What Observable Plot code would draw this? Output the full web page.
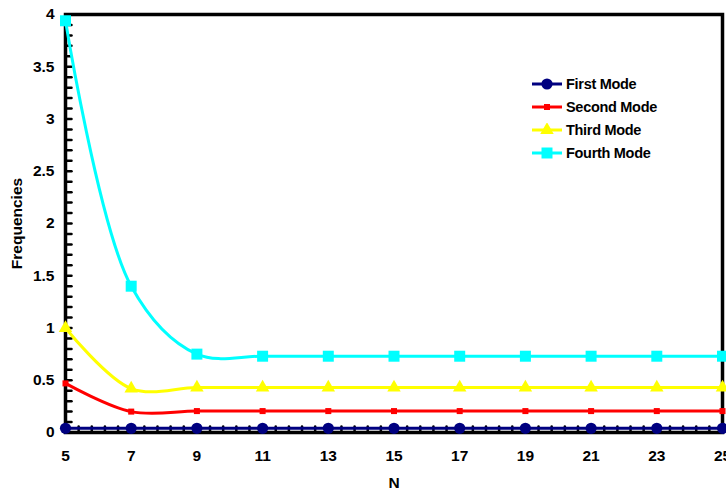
<!DOCTYPE html>
<html>
<head>
<meta charset="utf-8">
<script src="https://cdn.jsdelivr.net/npm/d3@7"></script>
<script src="https://cdn.jsdelivr.net/npm/@observablehq/plot@0.6"></script>
<style>
  html, body { margin: 0; padding: 0; background: #fff; }
  #wrap { position: relative; width: 726px; height: 495px; font-family: "Liberation Sans", Arial, sans-serif; }
  #legend { position: absolute; left: 531px; top: 72px; font-weight: bold; font-size: 14.5px; letter-spacing: -0.3px; }
  .row { display: flex; align-items: center; height: 23px; }
  .row svg { margin-right: 3px; }
</style>
</head>
<body>
<div id="wrap"><div id="legend"></div></div>
<script>
const N = [5, 7, 9, 11, 13, 15, 17, 19, 21, 23, 25];
const firstMode  = [0.04, 0.04, 0.04, 0.04, 0.04, 0.04, 0.04, 0.04, 0.04, 0.04, 0.04];
const secondMode = [0.47, 0.20, 0.205, 0.205, 0.205, 0.205, 0.205, 0.205, 0.205, 0.205, 0.205];
const thirdMode  = [1.00, 0.42, 0.43, 0.43, 0.43, 0.43, 0.43, 0.43, 0.43, 0.43, 0.43];
const fourthMode = [3.94, 1.40, 0.75, 0.73, 0.73, 0.73, 0.73, 0.73, 0.73, 0.73, 0.73];
const seriesNames = ["First Mode", "Second Mode", "Third Mode", "Fourth Mode"];
const seriesColors = ["#000080", "#ff0000", "#ffff00", "#00ffff"];
const seriesSymbols = ["circle", "square", "triangle", "square"];
const seriesSizes = [5.6, 3.4, 5.0, 6.2];
const yTicks = [0, 0.5, 1, 1.5, 2, 2.5, 3, 3.5, 4];
const xTicks = [5, 7, 9, 11, 13, 15, 17, 19, 21, 23, 25];

const seriesValues = [firstMode, secondMode, thirdMode, fourthMode];
const rows = seriesNames.flatMap((name, s) => N.map((n, i) => ({series: name, s, N: n, f: seriesValues[s][i]})));

const yMinor = d3.range(0, 4.0001, 0.1);
const xMinor = d3.range(5, 25.0001, 0.4);

const tickShape = {draw(context, l) { context.moveTo(0, 0); context.lineTo(0, -l); }};

const marks = [
  Plot.frame({stroke: "black", strokeWidth: 3.5}),
  // inward minor ticks on the left axis
  Plot.vector(yMinor, {y: d => d, frameAnchor: "left", rotate: 90, length: 6, shape: tickShape, anchor: "start", stroke: "black", strokeWidth: 2.5}),
  // inward minor ticks on the bottom axis
  Plot.vector(xMinor, {x: d => d, frameAnchor: "bottom", rotate: 0, length: 6, shape: tickShape, anchor: "start", stroke: "black", strokeWidth: 2.5}),
  Plot.axisY(yTicks, {anchor: "left", tickSize: 0, tickPadding: 11, tickFormat: d => String(d),
    label: "Frequencies", labelAnchor: "center", labelArrow: "none", labelOffset: 55}),
  Plot.axisX(xTicks, {anchor: "bottom", tickSize: 0, tickPadding: 17, tickFormat: d => String(d),
    label: "N", labelAnchor: "center", labelArrow: "none", labelOffset: 55})
];
seriesNames.forEach((name, s) => {
  const d = rows.filter(r => r.s === s);
  marks.push(Plot.line(d, {x: "N", y: "f", stroke: seriesColors[s], strokeWidth: 3, curve: "catmull-rom"}));
});
seriesNames.forEach((name, s) => {
  const d = rows.filter(r => r.s === s);
  marks.push(Plot.dot(d, {x: "N", y: "f", fill: seriesColors[s], stroke: "none", symbol: () => seriesSymbols[s], r: seriesSizes[s]}));
});

const chart = Plot.plot({
  width: 726,
  height: 495,
  marginLeft: 65,
  marginRight: 4,
  marginTop: 14,
  marginBottom: 63,
  style: {fontFamily: "'Liberation Sans', Arial, sans-serif", fontSize: "15.5px", fontWeight: "bold", color: "black", background: "white", overflow: "visible"},
  x: {domain: [5, 25]},
  y: {domain: [0, 4]},
  symbol: {type: "identity"},
  marks
});
document.getElementById("wrap").prepend(chart);

// legend
const legend = d3.select("#legend");
seriesNames.forEach((name, s) => {
  const row = legend.append("div").attr("class", "row");
  const svg = row.append("svg").attr("width", 32).attr("height", 14);
  svg.append("line").attr("x1", 1).attr("x2", 31).attr("y1", 7).attr("y2", 7)
    .attr("stroke", seriesColors[s]).attr("stroke-width", 3);
  const sym = seriesSymbols[s] === "circle" ? d3.symbolCircle : seriesSymbols[s] === "triangle" ? d3.symbolTriangle : d3.symbolSquare;
  const area = Math.PI * seriesSizes[s] * seriesSizes[s];
  svg.append("path").attr("transform", "translate(16,7)").attr("d", d3.symbol(sym, area)()).attr("fill", seriesColors[s]);
  row.append("span").text(name);
});
</script>
</body>
</html>
